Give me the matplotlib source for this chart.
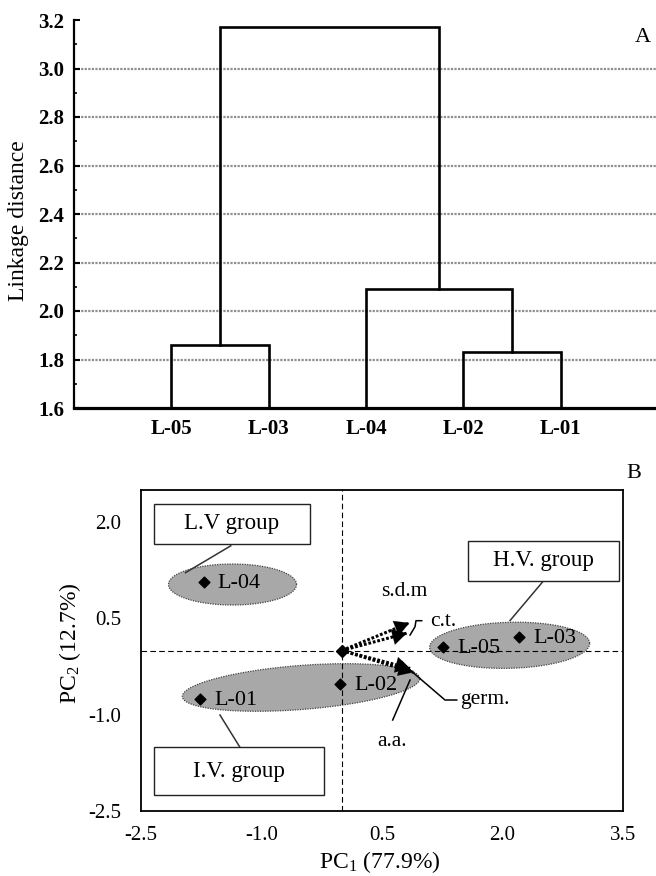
import numpy as np
import matplotlib
matplotlib.use("Agg")
import matplotlib.pyplot as plt
from matplotlib.patches import Polygon, Rectangle

plt.rcParams['font.family'] = ['Liberation Serif', 'DejaVu Serif']
plt.rcParams['mathtext.fontset'] = 'custom'
plt.rcParams['mathtext.rm'] = 'Liberation Serif'
plt.rcParams['mathtext.it'] = 'Liberation Serif:italic'
plt.rcParams['mathtext.bf'] = 'Liberation Serif:bold'

# ---------------- data ----------------
# Panel A: dendrogram
leaves = ['L-05', 'L-03', 'L-04', 'L-02', 'L-01']
merge_left = [0, 3, 2, 5]
merge_right = [1, 4, 6, 7]
merge_height = [1.861, 1.831, 2.090, 3.172]
a_yticks = [1.6, 1.8, 2.0, 2.2, 2.4, 2.6, 2.8, 3.0, 3.2]

# Panel B: PCA biplot
pc_names = ['L-01', 'L-02', 'L-03', 'L-04', 'L-05']
pc1 = [-1.76, -0.02, 2.21, -1.72, 1.26]
pc2 = [-0.75, -0.52, 0.21, 1.07, 0.05]
var_names = ['s.d.m', 'c.t.', 'a.a.', 'germ.']
load1 = [0.84, 0.81, 0.85, 0.89]
load2 = [0.43, 0.27, -0.28, -0.34]
b_xticks = [-2.5, -1.0, 0.5, 2.0, 3.5]
b_yticks = [-2.5, -1.0, 0.5, 2.0]

W, H = 656, 876
fig = plt.figure(figsize=(W / 100, H / 100), dpi=100)

# ---------------- Panel A ----------------
axA = fig.add_axes([74 / W, 1 - 408 / H, 584 / W, 388 / H])
axA.set_xlim(0, 6)
axA.set_ylim(a_yticks[0], a_yticks[-1])
for s in ['top', 'right']:
    axA.spines[s].set_visible(False)
axA.spines['left'].set_linewidth(1.6)
axA.spines['bottom'].set_linewidth(2.3)
axA.spines['left'].set_zorder(4)
axA.spines['bottom'].set_zorder(4)

for v in a_yticks[1:-1]:
    axA.axhline(v, color='#8f8f8f', lw=1.6, ls=(0, (1, 0.6)), zorder=0)

pos = {i: i + 1 for i in range(len(leaves))}
hgt = {i: a_yticks[0] for i in range(len(leaves))}
nid = len(leaves)
for l, r, h in zip(merge_left, merge_right, merge_height):
    xl, xr = pos[l], pos[r]
    axA.plot([xl, xl, xr, xr], [hgt[l], h, h, hgt[r]], color='black', lw=1.9,
             solid_joinstyle='miter', zorder=3)
    pos[nid] = (xl + xr) / 2
    hgt[nid] = h
    nid += 1

axA.set_xticks(range(1, len(leaves) + 1))
axA.set_xticklabels(leaves, fontsize=15, fontweight='bold')
axA.tick_params(axis='x', length=0, pad=8)
axA.set_yticks(a_yticks)
axA.set_yticklabels([f'{v:.1f}' for v in a_yticks], fontsize=15, fontweight='bold')
axA.set_yticks(np.arange(1.7, 3.2, 0.2), minor=True)
axA.tick_params(axis='y', which='major', direction='in', length=4, width=1.5, pad=7)
axA.tick_params(axis='y', which='minor', direction='in', length=2, width=1.2)
fig.text(19 / W, 1 - 221 / H, 'Linkage distance', rotation=90, fontsize=17,
         ha='center', va='center')
fig.text(643 / W, 1 - 37 / H, 'A', fontsize=16, ha='center', va='center')

# ---------------- Panel B ----------------
axB = fig.add_axes([141 / W, 1 - 811 / H, 482 / W, 321 / H])
axB.set_xlim(b_xticks[0], b_xticks[-1])
axB.set_ylim(-2.5, 2.5)
for s in axB.spines.values():
    s.set_linewidth(1.3)
    s.set_zorder(6)
axB.set_xticks(b_xticks)
axB.set_xticklabels([f'{v:.1f}' for v in b_xticks], fontsize=15)
axB.set_yticks(b_yticks)
axB.set_yticklabels([f'{v:.1f}' for v in b_yticks], fontsize=15)
axB.tick_params(axis='x', length=0, pad=11)
axB.tick_params(axis='y', length=0, pad=14)

axB.axhline(0, color='black', lw=0.8, ls=(0, (5, 3)), zorder=2)
axB.axvline(0, color='black', lw=0.8, ls=(0, (5, 3)), zorder=2)


def group_ellipse(ax, cx, cy, a_px, b_px, ang_deg):
    c = ax.transData.transform((cx, cy))
    t = np.linspace(0, 2 * np.pi, 240)
    th = np.deg2rad(ang_deg)
    ex, ey = a_px * np.cos(t), b_px * np.sin(t)
    px = c[0] + ex * np.cos(th) - ey * np.sin(th)
    py = c[1] + ex * np.sin(th) + ey * np.cos(th)
    pts = ax.transData.inverted().transform(np.column_stack([px, py]))
    ax.add_patch(Polygon(pts, closed=True, facecolor='#a8a8a8',
                         edgecolor='#444444', lw=0.9, ls=(0, (1, 1)), zorder=1))


group_ellipse(axB, -1.361, 1.028, 64, 20.5, 0)
group_ellipse(axB, -0.508, -0.576, 119, 22, 4.45)
group_ellipse(axB, 2.089, 0.081, 80, 23, 1.5)

axB.scatter(pc1, pc2, marker='D', s=30, color='black', zorder=5)
for n, x, y in zip(pc_names, pc1, pc2):
    axB.annotate(n, (x, y), xytext=(10, -1), textcoords='offset points',
                 ha='left', va='center', fontsize=16, zorder=5)

# loading vectors
for x, y in zip(load1, load2):
    axB.plot([0, x], [0, y], color='black', lw=2.2, ls=(0, (0.9, 0.6)), zorder=4)
    axB.annotate('', xy=(x, y), xytext=(0.8 * x, 0.8 * y),
                 arrowprops=dict(arrowstyle='-|>,head_length=0.9,head_width=0.5',
                                 mutation_scale=11.5, color='black', lw=0.1,
                                 shrinkA=0, shrinkB=0),
                 zorder=4)
axB.plot([0], [0], marker='D', ms=6.5, color='black', zorder=5)

# variable labels and leaders
axB.text(0.773, 0.916, 's.d.m', fontsize=15.5, ha='center', va='center')
axB.plot([0.849, 0.911, 0.923, 0.994], [0.241, 0.370, 0.464, 0.464],
         color='black', lw=1.1, zorder=4)
axB.text(1.098, 0.444, 'c.t.', fontsize=15.5, ha='left', va='center')
axB.plot([0.849, 1.284, 1.430], [-0.304, -0.771, -0.771], color='black', lw=1.1, zorder=4)
axB.text(1.471, -0.771, 'germ.', fontsize=15.5, ha='left', va='center')
axB.plot([0.633, 0.849], [-1.083, -0.460], color='black', lw=1.1, zorder=4)
axB.text(0.621, -1.421, 'a.a.', fontsize=15.5, ha='center', va='center')

# group boxes
boxes = [((-2.333, 1.659), 1.933, 0.623, 'L.V group', (-1.382, 1.631), (-1.946, 1.212)),
         ((1.571, 1.090), 1.873, 0.623, 'H.V. group', (2.504, 1.075), (2.094, 0.467)),
         ((-2.343, -2.255), 2.125, 0.752, 'I.V. group', (-1.268, -1.508), (-1.517, -1.005))]
for (x0, y0), w, h, lab, p0, p1 in boxes:
    axB.add_patch(Rectangle((x0, y0), w, h, facecolor='white', edgecolor='#222222',
                            lw=1.0, zorder=5))
    axB.text(x0 + w / 2, y0 + h / 2, lab, fontsize=16.5, ha='center', va='center', zorder=6)
    axB.plot([p0[0], p1[0]], [p0[1], p1[1]], color='#333333', lw=1.1, zorder=4)

fig.text(380 / W, 1 - 862 / H, r'PC$_{\mathrm{1}}$ (77.9%)', fontsize=17,
         ha='center', va='center')
fig.text(70 / W, 1 - 643 / H, r'PC$_{\mathrm{2}}$ (12.7%)', fontsize=17,
         rotation=90, ha='center', va='center')
fig.text(634 / W, 1 - 473 / H, 'B', fontsize=16, ha='center', va='center')

fig.savefig('out.png', dpi=100)
